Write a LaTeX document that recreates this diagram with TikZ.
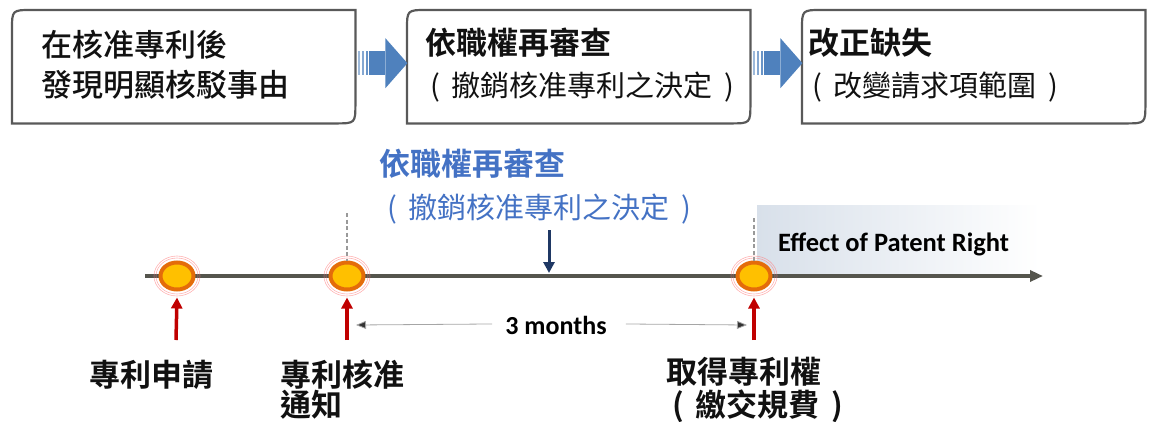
\documentclass[tikz,border=0pt]{standalone}
\usepackage{fontspec}
\newfontfamily\cjk{Noto Sans CJK TC}
\newfontfamily\cjkm{Noto Sans CJK TC Medium}
\newfontfamily\cjkb{Noto Sans CJK TC Bold}
\newfontfamily\calb{Carlito Bold}
\usetikzlibrary{arrows.meta,calc,shapes.geometric}
\definecolor{boxgray}{HTML}{595959}
\definecolor{arrowblue}{HTML}{4F81BD}
\definecolor{titleblue}{HTML}{4472C4}
\definecolor{navy}{HTML}{1F3864}
\definecolor{tlgray}{HTML}{55554D}
\definecolor{redarr}{HTML}{C00000}
\definecolor{ringor}{HTML}{E46C0A}
\definecolor{dotyel}{HTML}{FFC000}
\definecolor{effL}{HTML}{D8E0EA}
\definecolor{txtdark}{HTML}{111111}
\newcommand\myblockarrow{%
  \fill[arrowblue!55] (0,-12) rectangle (2,12);
  \fill[arrowblue!70] (4,-12) rectangle (6,12);
  \fill[arrowblue!85] (8,-12) rectangle (10,12);
  \fill[arrowblue] (11,-12) rectangle (27,12);
  \fill[arrowblue] (27,-25) -- (49,0) -- (27,25) -- cycle;}
\newcommand\lp{(\hspace{12pt}}
\newcommand\rp{\hspace{12pt})}
\begin{document}
\begin{tikzpicture}[x=1pt,y=-1pt,
  boxline/.style={draw=boxgray, line width=2.2},
  boxframe/.style={minimum width=343, minimum height=113, inner sep=0, anchor=north west},
  tx/.style={anchor=base west, inner sep=0, text=txtdark},
  halo/.style={draw=red!50, line width=0.6, opacity=0.6},
  dot/.style={ellipse, draw=ringor, fill=dotyel, line width=4, minimum width=33, minimum height=27, inner sep=0},
  redup/.style={draw=redarr, line width=3.5, -{Triangle[length=11,width=11]}},
  dashline/.style={draw=gray!80, line width=1.4, dash pattern=on 4pt off 2.5pt},
  thinarr/.style={draw=gray!70, line width=0.8, -{Triangle[length=10,width=8,fill=black!80]}}]
\useasboundingbox (0,0) rectangle (1154,421);
% top boxes
\node[boxframe] (b1) at (12,10) {};
\node[boxframe] (b2) at (407,10) {};
\node[boxframe] (b3) at (802,10) {};
\foreach \b in {b1,b2,b3}{
  \draw[boxline] (\b.south west) -- ($(\b.north west)+(0,20)$) .. controls (\b.north west) .. ($(\b.north west)+(20,0)$)
    -- (\b.north east) -- ($(\b.south east)+(0,-20)$) .. controls (\b.south east) .. ($(\b.south east)+(-20,0)$) -- cycle;}
\node[tx, font=\cjkm\fontsize{31}{31}\selectfont] (t1a) at (41,56) {在核准專利後};
\node[tx, font=\cjkm\fontsize{31}{31}\selectfont] (t1b) at (41,96) {發現明顯核駁事由};
\node[tx, font=\cjkb\fontsize{31}{31}\selectfont] (t2a) at (425,54) {依職權再審查};
\node[tx, font=\cjk\fontsize{29}{29}\selectfont] (t2b) at (430,96) {\lp 撤銷核准專利之決定\rp};
\node[tx, font=\cjkb\fontsize{31}{31}\selectfont] (t3a) at (808,54) {改正缺失};
\node[tx, font=\cjk\fontsize{29}{29}\selectfont] (t3b) at (812,96) {\lp 改變請求項範圍\rp};
% block arrows
\coordinate (a1) at ($(b1.east)+(3,-3.5)$);
\coordinate (a2) at ($(b2.east)+(3,-3.5)$);
\begin{scope}[shift={(a1)}]\myblockarrow\end{scope}
\begin{scope}[shift={(a2)}]\myblockarrow\end{scope}
% middle blue text
\node[tx, text=titleblue, font=\cjkb\fontsize{31}{31}\selectfont] (bt1) at (379,175) {依職權再審查};
\node[tx, text=titleblue, font=\cjk\fontsize{29}{29}\selectfont] (bt2) at (387,218) {\lp 撤銷核准專利之決定\rp};
% effect area
\shade[left color=effL, middle color=effL!75, right color=white] (757,205) rectangle (1040,273);
\node[tx, font=\calb\fontsize{26.5}{26.5}\selectfont, text=black] (eff) at (778,251) {Effect of Patent Right};
% timeline
\coordinate (tl0) at (145,276);
\coordinate (tl1) at (1043,276);
\draw[draw=tlgray, line width=3.2, -{Triangle[length=13,width=11]}] (tl0) -- (tl1);
% dots
\node[dot] (c1) at (177,276) {};
\node[dot] (c2) at (347,276) {};
\node[dot] (c3) at (754,276) {};
\foreach \c in {c1,c2,c3}{
  \draw[halo] (\c.center) ellipse [x radius=21, y radius=18];
  \draw[halo] (\c.center) ellipse [x radius=23, y radius=20];}
% dashed markers
\coordinate (d2) at (347,213);
\coordinate (d3) at (754,218);
\draw[dashline] (d2) -- (c2.north);
\draw[dashline] (d3) -- (c3.north);
% down arrow
\coordinate (dn0) at (549,230);
\coordinate (dn1) at (549,273);
\draw[draw=navy, line width=3, -{Triangle[length=11,width=11]}] (dn0) -- (dn1);
% red arrows
\coordinate (r1) at (176,340);
\coordinate (r2) at (347,340);
\coordinate (r3) at (754,340);
\draw[redup] (r1) -- ($(c1.south)+(0,6)$);
\draw[redup] (r2) -- ($(c2.south)+(0,6)$);
\draw[redup] (r3) -- ($(c3.south)+(0,6)$);
% 3 months
\node[anchor=base, inner sep=0, font=\calb\fontsize{26}{26}\selectfont, text=black] (m) at (556,334) {3 months};
\coordinate (m3l) at (356,325);
\coordinate (m3r) at (747,325);
\draw[thinarr] ($(m.west)+(-13,-1)$) -- (m3l);
\draw[thinarr] ($(m.east)+(19,-1)$) -- (m3r);
% bottom labels
\node[tx, font=\cjkb\fontsize{31}{31}\selectfont] (l1) at (89,386) {專利申請};
\node[tx, font=\cjkb\fontsize{31}{31}\selectfont] (l2a) at (280,386) {專利核准};
\node[tx, font=\cjkb\fontsize{31}{31}\selectfont] (l2b) at (280,416) {通知};
\node[tx, font=\cjkb\fontsize{31}{31}\selectfont] (l3a) at (666,383) {取得專利權};
\node[tx, font=\cjkb\fontsize{31}{31}\selectfont] (l3b) at (672,416) {\lp 繳交規費\rp};
\end{tikzpicture}
\end{document}
